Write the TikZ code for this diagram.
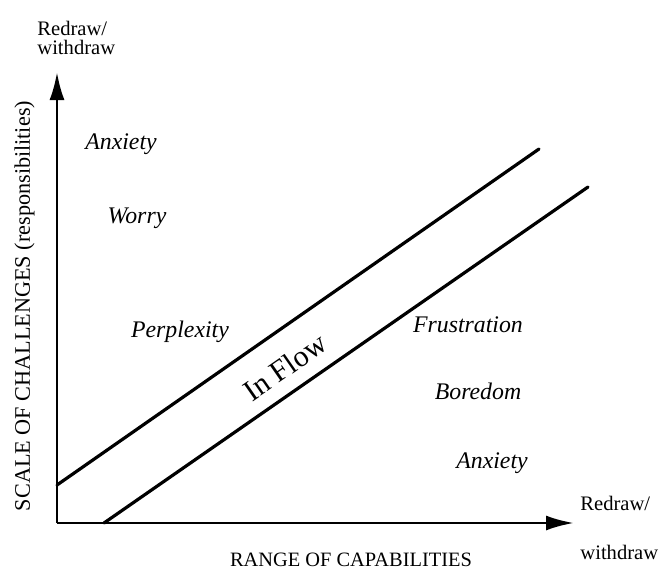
\documentclass[tikz,border=0pt]{standalone}
\usepackage{fontspec}
\setmainfont{Liberation Serif}
\usepackage{tikz}
\usepackage{xcolor}
\usetikzlibrary{arrows.meta}
\definecolor{ink}{HTML}{000000}
\definecolor{paper}{HTML}{FFFFFF}
\tikzset{
  axisarr/.style={draw=ink,line width=1.4pt,-{Latex[length=14pt,width=7.5pt]}},
  bandline/.style={draw=ink,line width=1.6pt,line cap=round},
  zonelabel/.style={font=\fontsize{11.9}{14}\selectfont\itshape,text=ink,
                    inner sep=0pt,anchor=base},
  endlabel/.style={font=\fontsize{10.3}{10.5}\selectfont,text=ink,
                   inner sep=0pt,anchor=base west,align=left},
  axistitle/.style={text=ink,inner sep=0pt,anchor=base}
}

\begin{document}
\begin{tikzpicture}[x=0.5pt,y=-0.5pt,>=Latex]
  \useasboundingbox[fill=paper] (0,0) rectangle (659,568);
  \coordinate (origin) at (57,523);
  \coordinate (ytip) at (57,72);
  \coordinate (xtip) at (574,523);
  \coordinate (upperstart) at (57,485);
  \coordinate (upperend) at (539,149);
  \coordinate (lowerstart) at (104,523);
  \coordinate (lowerend) at (588,187);
  \draw[axisarr] (origin) -- (ytip);
  \draw[axisarr] (origin) -- (xtip);
  \draw[bandline] (upperstart) -- (upperend);
  \draw[bandline] (lowerstart) -- (lowerend);
  \node[endlabel] (ytop) at (37,54) {Redraw/\\[-0.1em]withdraw};
  \node[endlabel] (xredraw) at (580,510) {Redraw/};
  \node[endlabel] (xwithdraw) at (580,559) {withdraw};
  \node[axistitle,font=\fontsize{10.2}{12}\selectfont] (xtitle) at (351,566)
    {RANGE OF CAPABILITIES};
  \node[axistitle,font=\fontsize{11.1}{13}\selectfont,rotate=90] (ytitle) at (30,306)
    {SCALE OF CHALLENGES (responsibilities)};
  \node[zonelabel] (anxietyhigh) at (121,149) {Anxiety};
  \node[zonelabel] (worry) at (137,223) {Worry};
  \node[zonelabel] (perplexity) at (180,337) {Perplexity};
  \node[zonelabel] (frustration) at (468,332) {Frustration};
  \node[zonelabel] (boredom) at (478,399) {Boredom};
  \node[zonelabel] (anxietylow) at (492,468) {Anxiety};
  \node[font=\fontsize{15}{18}\selectfont,text=ink,inner sep=0pt,rotate=34.8]
    (inflow) at (285,367) {In Flow};
\end{tikzpicture}
\end{document}
